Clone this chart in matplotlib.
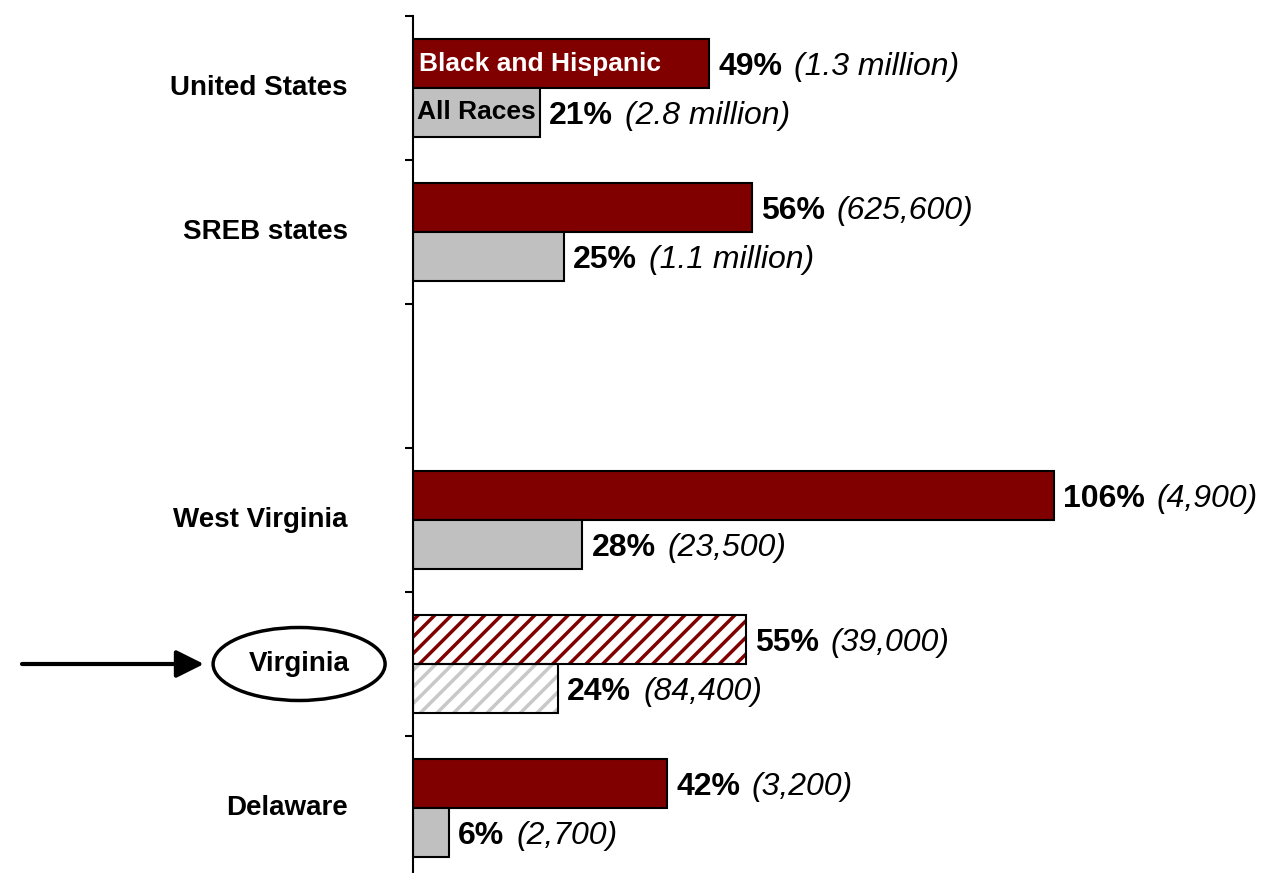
import matplotlib.pyplot as plt
from matplotlib.patches import Ellipse

# data
categories = ['United States', 'SREB states', '', 'West Virginia', 'Virginia', 'Delaware']
black_hisp_pct = [49, 56, None, 106, 55, 42]
black_hisp_num = ['1.3 million', '625,600', None, '4,900', '39,000', '3,200']
all_races_pct = [21, 25, None, 28, 24, 6]
all_races_num = ['2.8 million', '1.1 million', None, '23,500', '84,400', '2,700']
series_names = ['Black and Hispanic', 'All Races']
highlight = 'Virginia'

maroon = '#800000'
grey = '#C0C0C0'
fam = ['Liberation Sans', 'DejaVu Sans']
cat_size = 20      # category labels (narrow bold in original)
ser_size = 19      # series names inside the bars
val_size = 23

plt.rcParams['hatch.linewidth'] = 2.5

fig = plt.figure(figsize=(12.63, 8.73), dpi=100)
ax = fig.add_axes([413/1263, 1 - 880/873, 850/1263, 864/873])
ax.set_xlim(0, 140.5)
ax.set_ylim(len(categories), 0)

h = 0.34
for i, cat in enumerate(categories):
    if black_hisp_pct[i] is None:
        continue
    y_red = i + 0.5 - 0.17
    y_gry = i + 0.5 + 0.17
    if cat == highlight:
        ax.barh(y_red, black_hisp_pct[i], height=h, color='white', edgecolor=maroon, hatch='//', lw=0)
        ax.barh(y_gry, all_races_pct[i], height=h, color='white', edgecolor='#c8c8c8', hatch='//', lw=0)
        ax.barh([y_red, y_gry], [black_hisp_pct[i], all_races_pct[i]], height=h, fill=False,
                edgecolor='black', lw=1.5)
    else:
        ax.barh(y_red, black_hisp_pct[i], height=h, color=maroon, edgecolor='black', lw=1.5)
        ax.barh(y_gry, all_races_pct[i], height=h, color=grey, edgecolor='black', lw=1.5)

    for y, pct, num in [(y_red, black_hisp_pct[i], black_hisp_num[i]),
                        (y_gry, all_races_pct[i], all_races_num[i])]:
        t = ax.annotate('{}%'.format(pct), xy=(pct, y), xytext=(6.5, -2.5), textcoords='offset points',
                        ha='left', va='center', fontsize=val_size, fontweight='bold', family=fam)
        ax.annotate('({})'.format(num), xy=(1, 0.5), xycoords=t, xytext=(8.5, 0),
                    textcoords='offset points', ha='left', va='center', fontsize=val_size,
                    style='italic', family=fam)

    if cat == highlight:
        ax.text(-0.134, i + 0.5, cat, transform=ax.get_yaxis_transform(), ha='center', va='center',
                fontsize=cat_size, fontweight='bold', family=fam)
        ax.add_patch(Ellipse((-0.134, i + 0.5), 172/850, 0.507, transform=ax.get_yaxis_transform(),
                             fill=False, lw=2.5, edgecolor='black', clip_on=False))
        ax.annotate('', xy=(-0.246, i + 0.5), xycoords=ax.get_yaxis_transform(),
                    xytext=(-0.46, i + 0.5), textcoords=ax.get_yaxis_transform(),
                    arrowprops=dict(arrowstyle='-|>', lw=3, color='black', mutation_scale=42,
                                    shrinkA=0, shrinkB=0))
    else:
        ax.text(-0.0765, i + 0.5, cat, transform=ax.get_yaxis_transform(), ha='right', va='center',
                fontsize=cat_size, fontweight='bold', family=fam)

# series names written inside the first pair of bars
ax.text(1, 0.5 - 0.17, series_names[0], ha='left', va='center', color='white',
        fontsize=ser_size, fontweight='bold', family=fam)
ax.text(0.6, 0.5 + 0.17, series_names[1], ha='left', va='center', color='black',
        fontsize=ser_size, fontweight='bold', family=fam)

ax.set_yticks(range(len(categories)))
ax.set_yticklabels([])
ax.tick_params(axis='y', direction='out', length=6, width=1.5)
ax.set_xticks([])
for s in ['top', 'right', 'bottom']:
    ax.spines[s].set_visible(False)
ax.spines['left'].set_linewidth(1.5)

fig.savefig('out.png', dpi=100)
